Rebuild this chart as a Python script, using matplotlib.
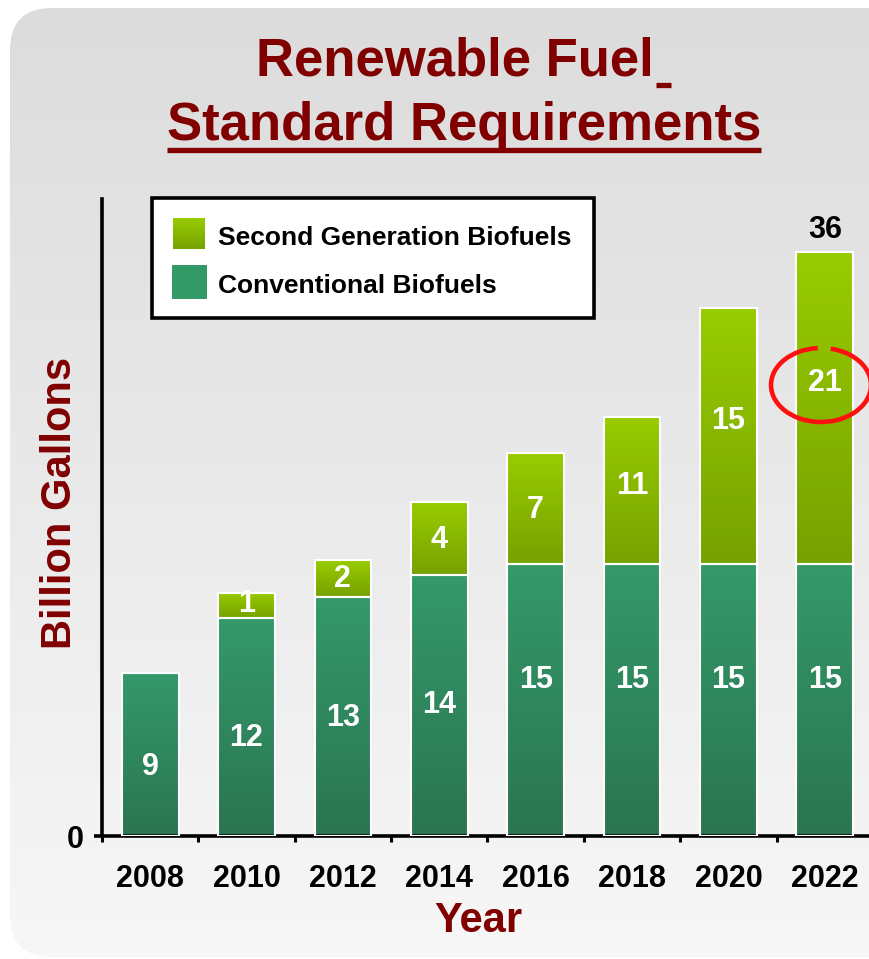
import numpy as np
import matplotlib
matplotlib.use("Agg")
import matplotlib.pyplot as plt
from matplotlib.colors import LinearSegmentedColormap
from matplotlib.patches import FancyBboxPatch, Rectangle, Arc

plt.rcParams['font.family'] = ['Liberation Sans', 'DejaVu Sans']
plt.rcParams['font.weight'] = 'bold'

# ---- data (bar heights as drawn, labels as printed) ----
years = ["2008", "2010", "2012", "2014", "2016", "2018", "2020", "2022"]
conventional = [9.0, 12.0, 13.2, 14.4, 15.0, 15.0, 15.0, 15.0]
second_gen = [0.0, 1.4, 2.0, 4.0, 6.1, 8.1, 14.1, 17.2]
conv_labels = ["9", "12", "13", "14", "15", "15", "15", "15"]
second_labels = ["", "1", "2", "4", "7", "11", "15", "21"]
total_label = "36"

# label placement (data units)
conv_label_y = [3.8, 5.4, 6.5, 7.2, 8.6, 8.6, 8.6, 8.6]
second_label_y = [0, 12.8, 14.2, 16.3, 18.0, 19.3, 22.9, 25.0]

DARKRED = "#800000"
W, H = 870, 959
fig = plt.figure(figsize=(W / 100, H / 100), dpi=100)
fig.patch.set_facecolor("white")

# ---- background panel, pixel coords ----
bg = fig.add_axes([0, 0, 1, 1], zorder=-1)
bg.axis("off")
grad = np.linspace(0, 1, 256).reshape(-1, 1)
panel = FancyBboxPatch((10, 8), 920, 949, boxstyle="round,pad=0,rounding_size=42",
                       fc="none", ec="none")
bg.add_patch(panel)
bg_cmap = LinearSegmentedColormap.from_list("bg", ["#dcdcdc", "#f7f7f7"])
im = bg.imshow(grad, extent=[10, 930, 957, 8], origin="upper", cmap=bg_cmap, aspect="auto")
im.set_clip_path(panel)
bg.set_xlim(0, W)
bg.set_ylim(H, 0)

# ---- main axes ----
L, R, B, T = 102, 873, 836, 199
ax = fig.add_axes([L / W, 1 - B / H, (R - L) / W, (B - T) / H])
ax.patch.set_alpha(0)
x = np.arange(len(years))
bw = 0.59

conv_bars = ax.bar(x, conventional, bw, fc="none", ec="white", lw=1.5, zorder=3)
sec_bars = ax.bar(x, second_gen, bw, bottom=conventional, fc="none", ec="white", lw=1.5, zorder=3)

conv_cmap = LinearSegmentedColormap.from_list("conv", ["#35996a", "#2a7550"])
sec_cmap = LinearSegmentedColormap.from_list("sec", ["#99cc00", "#76a100"])


def fill_gradient(bars, cmap):
    for b in bars:
        if b.get_height() <= 0:
            continue
        x0, y0 = b.get_x(), b.get_y()
        ax.imshow(grad, extent=[x0, x0 + b.get_width(), y0, y0 + b.get_height()],
                  origin="upper", cmap=cmap, aspect="auto", zorder=2)


fill_gradient(conv_bars, conv_cmap)
fill_gradient(sec_bars, sec_cmap)

ax.set_xlim(-0.5, len(years) - 0.5)
ax.set_ylim(0, 35.13)

for s in ["top", "right"]:
    ax.spines[s].set_visible(False)
for s in ["left", "bottom"]:
    ax.spines[s].set_linewidth(2.6)
    ax.spines[s].set_color("black")

ax.set_yticks([0])
ax.set_yticklabels(["0"])
ax.tick_params(axis="y", length=6, width=2.6, pad=7, labelsize=22)
ax.set_xticks(x)
ax.set_xticklabels(years)
ax.tick_params(axis="x", which="major", length=0, pad=20, labelsize=22)
ax.set_xticks(np.arange(-0.5, len(years), 1), minor=True)
ax.tick_params(axis="x", which="minor", length=4.5, width=2.2)

for i in range(len(years)):
    ax.text(x[i], conv_label_y[i], conv_labels[i], color="white", fontsize=22,
            ha="center", va="center", zorder=4)
    if second_labels[i]:
        ax.text(x[i], second_label_y[i], second_labels[i], color="white", fontsize=22,
                ha="center", va="center", zorder=4)
top = conventional[-1] + second_gen[-1]
ax.text(x[-1], top + 0.4, total_label, color="black", fontsize=22, ha="center",
        va="bottom", zorder=4)

ax.text((60 - L) / (R - L), (B - 503) / (B - T), "Billion Gallons", rotation=90,
        color=DARKRED, fontsize=30, ha="center", va="center", transform=ax.transAxes)
ax.text((478 - L) / (R - L), (B - 921) / (B - T), "Year", color=DARKRED, fontsize=30,
        ha="center", va="center", transform=ax.transAxes)

# ---- legend (drawn by hand so the gradient swatch shows) ----
bg.add_patch(Rectangle((152, 198), 442, 120, fc="white", ec="black", lw=2.6, zorder=5))
bg.imshow(grad, extent=[173, 205, 249, 218], origin="upper", cmap=sec_cmap,
          aspect="auto", zorder=6)
bg.add_patch(Rectangle((172, 265), 35, 34, fc="#339966", ec="none", zorder=6))
bg.text(218, 238, "Second Generation Biofuels", fontsize=19, va="center", ha="left", zorder=6)
bg.text(218, 286, "Conventional Biofuels", fontsize=19, va="center", ha="left", zorder=6)
bg.set_xlim(0, W)
bg.set_ylim(H, 0)

# ---- title with underlines ----
t1 = bg.text(455, 76, "Renewable Fuel", color=DARKRED, fontsize=38, ha="center", va="baseline")
t2 = bg.text(464, 140, "Standard Requirements", color=DARKRED, fontsize=38, ha="center", va="baseline")
fig.canvas.draw()
bb1 = t1.get_window_extent()
bb2 = t2.get_window_extent()
bg.plot([bb1.x1 + 2, bb1.x1 + 17], [85, 85], color=DARKRED, lw=3.8, solid_capstyle="butt")
bg.plot([bb2.x0, bb2.x1], [149.5, 149.5], color=DARKRED, lw=3.8, solid_capstyle="butt")
bg.set_xlim(0, W)
bg.set_ylim(H, 0)

# red hand-drawn ring round the 2022 second-gen label (on top of the bars)
ring = Arc((821, 385), 100, 74, theta1=-75, theta2=265, color="#ff1010", lw=3.3,
           transform=bg.transData, clip_on=False, zorder=8)
ax.add_patch(ring)

fig.savefig("out.png", dpi=100)
